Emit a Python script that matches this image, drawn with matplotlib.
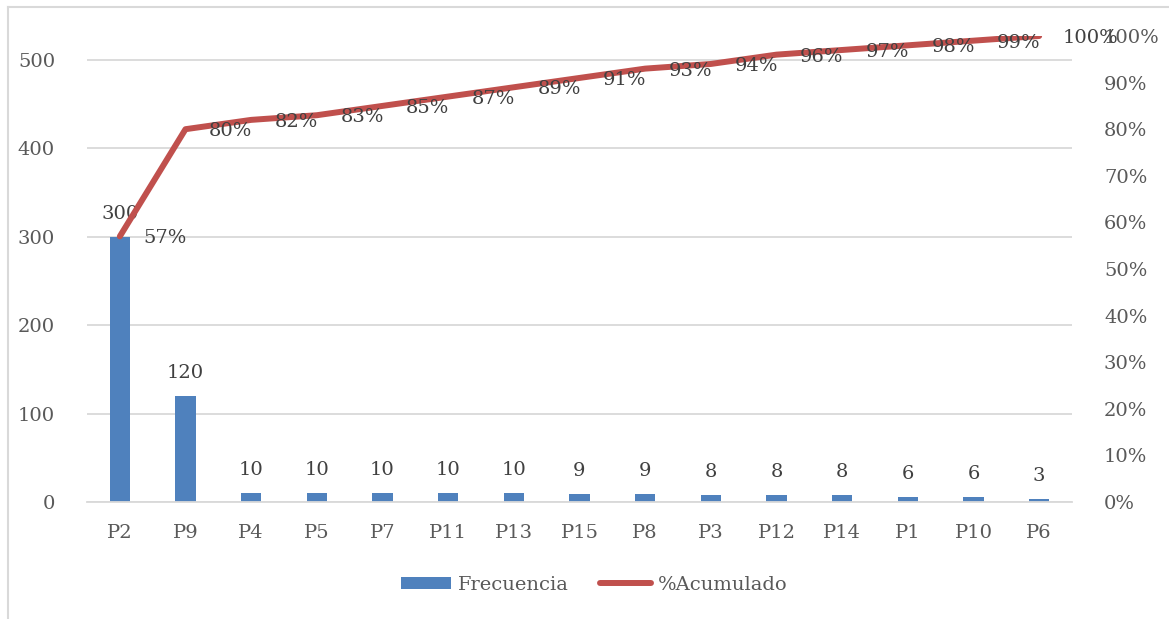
import matplotlib
matplotlib.use("Agg")
import matplotlib.pyplot as plt
from matplotlib.lines import Line2D
from matplotlib.patches import Patch
import numpy as np

categories = ["P2", "P9", "P4", "P5", "P7", "P11", "P13", "P15", "P8", "P3", "P12", "P14", "P1", "P10", "P6"]
frecuencia = [300, 120, 10, 10, 10, 10, 10, 9, 9, 8, 8, 8, 6, 6, 3]
acumulado_pct = [57, 80, 82, 83, 85, 87, 89, 91, 93, 94, 96, 97, 98, 99, 100]
left_ticks = [0, 100, 200, 300, 400, 500]
right_ticks = [0, 10, 20, 30, 40, 50, 60, 70, 80, 90, 100]

BLUE = "#4F81BD"
RED = "#C0504D"
AX_TXT = "#595959"
LBL_TXT = "#404040"
GRID = "#D9D9D9"
FONT = "DejaVu Serif"
FS = 14

plt.rcParams["font.family"] = FONT

W, H = 1169, 619
fig = plt.figure(figsize=(W / 100, H / 100), dpi=100)
x0, x1, y0, y1 = 87, 1072, 502, 36
ax = fig.add_axes([x0 / W, 1 - y0 / H, (x1 - x0) / W, (y0 - y1) / H])
total = sum(frecuencia)
x = np.arange(len(categories))

ax.bar(x, frecuencia, width=0.31, color=BLUE, zorder=2)
ax.set_xlim(-0.5, len(categories) - 0.5)
ax.set_ylim(0, total)
ax.set_yticks(left_ticks)
ax.set_yticklabels([str(t) for t in left_ticks])
ax.set_xticks(x)
ax.set_xticklabels(categories)
ax.grid(axis="y", color=GRID, lw=1.3, zorder=0)
ax.set_axisbelow(True)
for s in ["top", "right", "left"]:
    ax.spines[s].set_visible(False)
ax.spines["bottom"].set_color(GRID)
ax.spines["bottom"].set_linewidth(1.3)
ax.tick_params(axis="both", length=0, labelsize=FS, colors=AX_TXT)
ax.tick_params(axis="y", pad=23)
ax.tick_params(axis="x", pad=16)

for xi, v in zip(x, frecuencia):
    ax.annotate(str(v), (xi, v), xytext=(0, 10), textcoords="offset points",
                ha="center", va="bottom", fontsize=FS, color=LBL_TXT)

ax2 = ax.twinx()
ax2.set_ylim(0, 1)
ax2.plot(x, [p / 100 for p in acumulado_pct], color=RED, lw=4.3, solid_capstyle="round", zorder=3)
ax2.set_yticks([t / 100 for t in right_ticks])
ax2.set_yticklabels([f"{t}%" for t in right_ticks])
for s in ["top", "right", "left", "bottom"]:
    ax2.spines[s].set_visible(False)
ax2.tick_params(axis="y", length=0, labelsize=FS, colors=AX_TXT, pad=23)

for xi, p in zip(x, acumulado_pct):
    ax2.annotate(f"{p}%", (xi, p / 100), xytext=(17, -1.5), textcoords="offset points",
                 ha="left", va="center", fontsize=FS, color=LBL_TXT)

handles = [Patch(facecolor=BLUE, edgecolor="none"),
           Line2D([0], [0], color=RED, lw=4.3, solid_capstyle="round")]
fig.legend(handles, ["Frecuencia", "%Acumulado"], loc="center",
           bbox_to_anchor=(0.508, 1 - 585 / H), ncol=2, frameon=False,
           fontsize=FS, labelcolor=AX_TXT, handlelength=2.6, handleheight=0.6,
           handletextpad=0.35, columnspacing=1.6)

fig.add_artist(Line2D([8 / W, 8 / W], [0, 1 - 7 / H], color=GRID, lw=1.5, transform=fig.transFigure))
fig.add_artist(Line2D([8 / W, 1], [1 - 7 / H, 1 - 7 / H], color=GRID, lw=1.5, transform=fig.transFigure))

fig.savefig("out.png", dpi=100, facecolor="white")
